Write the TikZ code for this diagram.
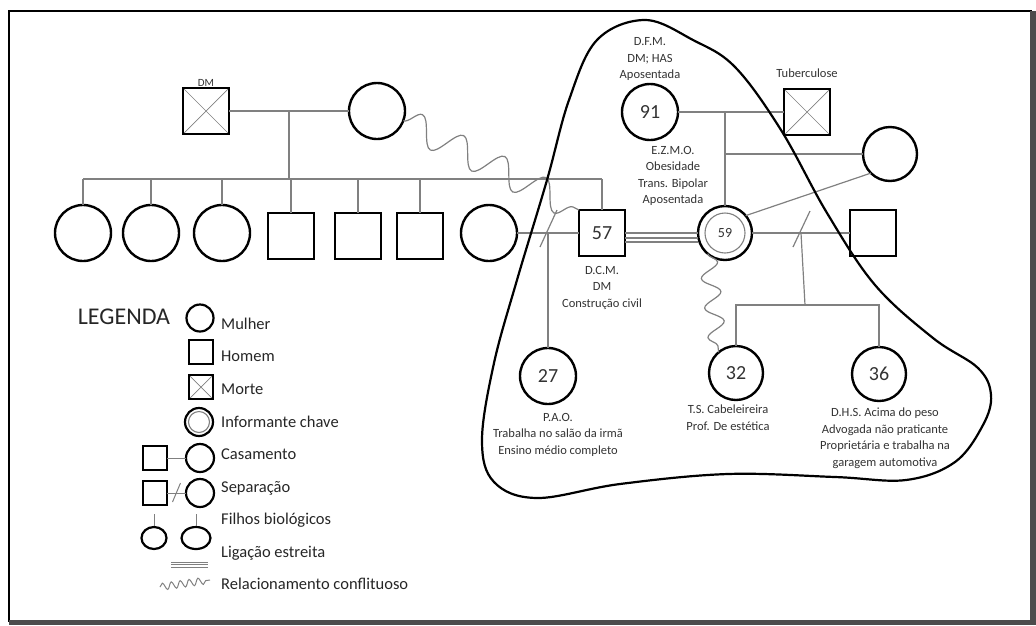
\documentclass[tikz,border=0pt]{standalone}
\usepackage{fontspec}
\setmainfont{Carlito}
\usetikzlibrary{positioning,shapes.geometric,decorations.pathmorphing}
\begin{document}
\begin{tikzpicture}[x=1pt,y=-1pt,
    fem/.style={circle,draw,line width=2.4pt,minimum size=56pt,inner sep=0pt,outer sep=0pt,text=black!80,font=\fontsize{20}{20}\selectfont},
    male/.style={rectangle,draw,line width=2.4pt,minimum size=46pt,inner sep=0pt,outer sep=0pt,text=black!80,font=\fontsize{20}{20}\selectfont},
    dead/.style={male,path picture={\draw[gray,line width=0.7pt] (path picture bounding box.north west) -- (path picture bounding box.south east) (path picture bounding box.north east) -- (path picture bounding box.south west);}},
    informant/.style={fem,path picture={\draw[gray,line width=1.1pt] (path picture bounding box.center) circle[radius=#1];}},
    rel/.style={gray,line width=1.2pt},
    conflict/.style={gray,line width=1.2pt,decorate,decoration={snake,amplitude=#1,segment length=3.3*#1}},
    lbl/.style={align=center,inner sep=0pt,text=black!80,font=\fontsize{12.5}{16.5}\selectfont},
    leg/.style={anchor=base west,inner sep=0pt,text=black!85,font=\fontsize{16.5}{18}\selectfont},
    small/.style={line width=2.2pt,minimum size=24pt}]
    \useasboundingbox (0,0) rectangle (1036,625);
    \draw[line width=1.2pt] (9,11) rectangle (1031,621);
    \fill[black!70] (1030,11) rectangle (1036,625);
    \fill[black!70] (9,620) rectangle (1036,625);

    \node[dead] (gf) at (206,111) {};
    \node[lbl,font=\fontsize{11}{11}\selectfont,above=1pt of gf] {DM};
    \node[fem] (gm) at (377,111) {};
    \coordinate (sib) at (290,179);
    \foreach \n/\x in {c1/83,c2/151,c3/222,c4/489} \node[fem] (\n) at (\x,233) {};
    \foreach \n/\x in {s1/291,s2/358,s3/420} \node[male] (\n) at (\x,236) {};
    \node[male] (u57) at (602,233) {57};
    \node[lbl,below=10pt of u57] {D.C.M.\\DM\\Construção civil};
    \node[informant=20pt,minimum size=54pt,font=\fontsize{14}{14}\selectfont] (e59) at (725,233) {59};
    \node[lbl,anchor=south,xshift=-52pt] at (e59.north) {E.Z.M.O.\\Obesidade\\Trans. Bipolar\\Aposentada};
    \node[fem] (f91) at (650,112) {91};
    \node[lbl,above=3pt of f91] {D.F.M.\\DM; HAS\\Aposentada};
    \node[dead] (tb) at (807,112) {};
    \node[lbl,above=11pt of tb] {Tuberculose};
    \node[fem,minimum size=54pt] (rc) at (890,154) {};
    \node[male] (m2) at (873,233) {};
    \node[fem] (k27) at (548,376) {27};
    \node[lbl,below=9pt of k27,xshift=10pt] {P.A.O.\\Trabalha no salão da irmã\\Ensino médio completo};
    \node[fem,minimum size=54pt] (k32) at (736,373) {32};
    \node[lbl,below=5pt of k32,xshift=-8pt] {T.S. Cabeleireira\\Prof. De estética};
    \node[fem,minimum size=54pt] (k36) at (879,374) {36};
    \node[lbl,below=7pt of k36,xshift=6pt] {D.H.S. Acima do peso\\Advogada não praticante\\Proprietária e trabalha na\\garagem automotiva};

    \draw[rel] (gf.east) -- coordinate (m1) (gm.west);
    \draw[rel] (m1) -- (m1 |- sib);
    \draw[rel] (c1.north |- sib) -- (u57.north |- sib);
    \foreach \n in {c1,c2,c3,s1,s2,s3,u57} \draw[rel] (\n.north) -- (\n.north |- sib);
    \draw[rel] (c4.east) -- coordinate (sp1) (u57.west);
    \draw[rel] (sp1) ++(-8,14) -- ++(17,-37);
    \draw[rel] (sp1) -- (sp1 |- k27.north);
    \foreach \d in {0,5,9} \draw[rel] ([yshift=-\d pt]u57.east) -- ([yshift=-\d pt]e59.west);
    \draw[rel] (f91.east) -- (tb.west);
    \draw[rel] (e59.north) -- (e59.north |- f91.east);
    \draw[rel] (e59.north |- rc.west) -- (rc.west);
    \draw[rel] (e59.40) -- (rc.225);
    \draw[rel] (e59.east) -- coordinate (sp2) (m2.west);
    \draw[rel] (sp2) ++(-8,14) -- ++(17,-36);
    \coordinate (cl) at (805,305);
    \draw[rel] (sp2) -- (cl);
    \draw[rel] (k32.north) -- (k32.north |- cl) -- (k36.north |- cl) -- (k36.north);
    \draw[conflict=14pt] (gm.-20) -- (u57.north west);
    \draw[conflict=9pt] (e59.230) -- (k32.130);

    \draw[line width=2.2pt] plot[smooth cycle,tension=0.6] coordinates {(645,20) (693,40) (735,67) (781,130) (827,213) (875,285) (933,338) (978,368) (991,395) (983,425) (955,462) (906,480) (835,477) (728,474) (620,484) (537,498) (494,482) (482,440) (494,363) (517,280) (547,180) (569,100) (597,40)};

    \node[font=\fontsize{24}{24}\selectfont,text=black!85] (leg) at (124,317) {LEGENDA};
    \node[fem,small,minimum size=27pt] (l1) at (200,318) {};
    \node[leg] at (221,329) {Mulher};
    \node[male,small] (l2) at (201,352) {};
    \node[leg] at (221,361) {Homem};
    \node[dead,small] (l3) at (201,387) {};
    \node[leg] at (221,394) {Morte};
    \node[informant=10.5pt,small,minimum size=28pt] (l4) at (199,422) {};
    \node[leg] at (221,427) {Informante chave};
    \node[male,small] (l5m) at (155,458) {};
    \node[fem,small,minimum size=28pt] (l5f) at (200,458) {};
    \draw[rel,line width=1pt] (l5m) -- (l5f);
    \node[leg] at (221,459) {Casamento};
    \node[male,small] (l6m) at (155,493) {};
    \node[fem,small,minimum size=28pt] (l6f) at (200,493) {};
    \draw[rel,line width=1pt] (l6m) -- coordinate (sp3) (l6f);
    \draw[rel,line width=1pt] (sp3) ++(-4,9) -- ++(8,-19);
    \node[leg] at (221,492) {Separação};
    \node[ellipse,draw,line width=2.2pt,minimum width=25pt,minimum height=22pt,inner sep=0pt] (l7a) at (154,538) {};
    \node[ellipse,draw,line width=2.2pt,minimum width=29pt,minimum height=22pt,inner sep=0pt] (l7b) at (196,538) {};
    \foreach \n in {l7a,l7b} \draw[rel,line width=1pt] (\n.north) -- ++(0,-12);
    \node[leg] at (221,524) {Filhos biológicos};
    \foreach \d in {0,2.5,5} \draw[gray,line width=1pt] (171,562+\d) -- (208,562+\d);
    \node[leg] at (221,557) {Ligação estreita};
    \draw[gray,line width=1pt,decorate,decoration={snake,amplitude=3.5pt,segment length=9pt}] (160,587) -- (210,580);
    \node[leg] at (221,589) {Relacionamento conflituoso};
\end{tikzpicture}
\end{document}
